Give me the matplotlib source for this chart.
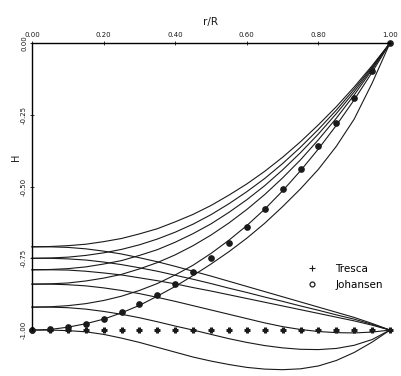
import numpy as np
import matplotlib
matplotlib.use("Agg")
import matplotlib.pyplot as plt
from matplotlib.lines import Line2D

# r/R positions (read every 0.05)
r = [0.00, 0.05, 0.10, 0.15, 0.20, 0.25, 0.30, 0.35, 0.40, 0.45, 0.50,
     0.55, 0.60, 0.65, 0.70, 0.75, 0.80, 0.85, 0.90, 0.95, 1.00]

# curves rising to H = 0 at r/R = 1
up_071 = [-0.710, -0.709, -0.706, -0.701, -0.692, -0.681, -0.665, -0.647, -0.623, -0.597, -0.566,
          -0.530, -0.491, -0.447, -0.398, -0.344, -0.285, -0.222, -0.153, -0.079, 0.0]
up_075 = [-0.750, -0.749, -0.746, -0.740, -0.731, -0.719, -0.703, -0.683, -0.659, -0.631, -0.598,
          -0.560, -0.518, -0.472, -0.420, -0.363, -0.301, -0.234, -0.161, -0.083, 0.0]
up_079 = [-0.790, -0.789, -0.786, -0.780, -0.770, -0.758, -0.740, -0.720, -0.694, -0.664, -0.630,
          -0.590, -0.546, -0.497, -0.442, -0.382, -0.317, -0.246, -0.170, -0.088, 0.0]
up_084 = [-0.840, -0.839, -0.836, -0.829, -0.819, -0.806, -0.787, -0.765, -0.738, -0.706, -0.669,
          -0.627, -0.580, -0.528, -0.470, -0.407, -0.337, -0.262, -0.181, -0.093, 0.0]
up_092 = [-0.920, -0.919, -0.915, -0.908, -0.897, -0.882, -0.862, -0.838, -0.808, -0.774, -0.733,
          -0.687, -0.636, -0.579, -0.515, -0.445, -0.369, -0.287, -0.198, -0.102, 0.0]
up_100 = [-1.000, -0.998, -0.990, -0.978, -0.962, -0.940, -0.914, -0.882, -0.848, -0.810, -0.770,
          -0.727, -0.680, -0.628, -0.570, -0.508, -0.440, -0.360, -0.265, -0.140, 0.0]

# curves falling back to H = -1 at r/R = 1
dn_071 = [-0.710, -0.710, -0.712, -0.717, -0.725, -0.735, -0.748, -0.762, -0.778, -0.795, -0.812,
          -0.830, -0.848, -0.866, -0.884, -0.902, -0.920, -0.938, -0.956, -0.977, -1.0]
dn_075 = [-0.750, -0.750, -0.752, -0.756, -0.763, -0.772, -0.783, -0.795, -0.809, -0.823, -0.838,
          -0.854, -0.869, -0.885, -0.900, -0.916, -0.931, -0.947, -0.962, -0.980, -1.0]
dn_079 = [-0.790, -0.790, -0.791, -0.795, -0.801, -0.808, -0.818, -0.828, -0.839, -0.852, -0.864,
          -0.877, -0.890, -0.903, -0.916, -0.929, -0.942, -0.955, -0.968, -0.983, -1.0]
dn_084 = [-0.840, -0.840, -0.842, -0.846, -0.853, -0.862, -0.873, -0.886, -0.900, -0.915, -0.930,
          -0.945, -0.960, -0.975, -0.988, -0.998, -1.005, -1.009, -1.010, -1.007, -1.0]
dn_092 = [-0.920, -0.920, -0.922, -0.927, -0.935, -0.945, -0.957, -0.971, -0.986, -1.000, -1.015,
          -1.030, -1.043, -1.054, -1.062, -1.067, -1.068, -1.064, -1.053, -1.033, -1.0]
dn_100 = [-1.000, -1.000, -1.002, -1.006, -1.015, -1.028, -1.043, -1.060, -1.077, -1.094, -1.108,
          -1.120, -1.130, -1.136, -1.138, -1.135, -1.125, -1.106, -1.078, -1.042, -1.0]

up_curves = [up_071, up_075, up_079, up_084, up_092, up_100]
dn_curves = [dn_071, dn_075, dn_079, dn_084, dn_092, dn_100]

# marker series
tresca = [-1.00] * 21
johansen = [-1.000, -0.997, -0.990, -0.978, -0.960, -0.938, -0.910, -0.878, -0.840, -0.798, -0.750,
            -0.698, -0.640, -0.578, -0.510, -0.438, -0.360, -0.278, -0.190, -0.098, 0.000]

fig = plt.figure(figsize=(4.01, 3.76), dpi=100)
ax = fig.add_axes([32 / 401, 0.0, 358 / 401, 333 / 376])

ink = "#1a1a1a"
for h in up_curves + dn_curves:
    ax.plot(r, h, color=ink, linewidth=0.8, clip_on=False)

ax.plot(r, tresca, linestyle="none", marker="+", markersize=4.5, markeredgewidth=2.2,
        color=ink, clip_on=False)
ax.plot(r, johansen, linestyle="none", marker="o", markersize=3.8, markeredgewidth=1.0,
        markerfacecolor=ink, markeredgecolor=ink, clip_on=False)

ax.set_xlim(0, 1)
ax.set_ylim(-1.16, 0)

for side in ["right", "bottom"]:
    ax.spines[side].set_visible(False)
ax.spines["left"].set_bounds(-1.0, 0.0)
ax.spines["top"].set_linewidth(1.0)
ax.spines["left"].set_linewidth(1.0)

ax.xaxis.tick_top()
ax.xaxis.set_label_position("top")
ax.set_xticks([0.0, 0.2, 0.4, 0.6, 0.8, 1.0])
ax.set_xticklabels(["0.00", "0.20", "0.40", "0.60", "0.80", "1.00"], fontsize=5)
ax.set_yticks([0.0, -0.25, -0.5, -0.75, -1.0])
ax.set_yticklabels(["0.00", "-0.25", "-0.50", "-0.75", "-1.00"], fontsize=5,
                   rotation=90, va="center")
ax.tick_params(axis="both", direction="inout", length=3, width=0.6, colors=ink, pad=2)

ax.set_xlabel("r/R", fontsize=7.5, labelpad=5, color=ink)
ax.set_ylabel("H", fontsize=7, color=ink)
ax.yaxis.set_label_coords(-0.03, 0.658)

# legend symbols are drawn thin, as in the original key
handles = [Line2D([], [], linestyle="none", marker="+", markersize=4, markeredgewidth=0.8, color=ink),
           Line2D([], [], linestyle="none", marker="o", markersize=3.5, markeredgewidth=0.9,
                  markerfacecolor="none", markeredgecolor=ink)]
ax.legend(handles, ["Tresca", "Johansen"], loc="upper left", bbox_to_anchor=(0.745, 0.365),
          frameon=False, fontsize=7.5, handlelength=0.8, handletextpad=1.8, labelspacing=0.55,
          numpoints=1)

fig.savefig("out.png", dpi=100)
